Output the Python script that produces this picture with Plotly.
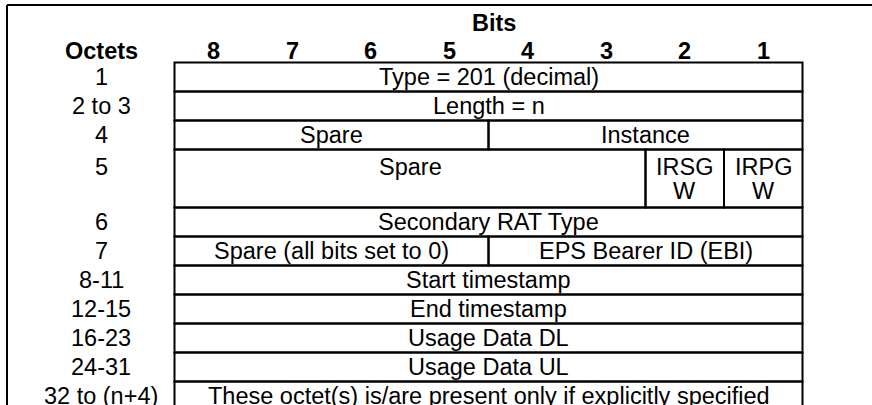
import plotly.graph_objects as go

# ---------------- data ----------------
bits = [8, 7, 6, 5, 4, 3, 2, 1]
octets = ["1", "2 to 3", "4", "5", "6", "7", "8-11", "12-15", "16-23", "24-31", "32 to (n+4)"]
row_units = [1, 1, 1, 2, 1, 1, 1, 1, 1, 1, 1]          # lines of text per octet row
# fields: (octet row index, highest bit, lowest bit, label lines)
field_row = [0, 1, 2, 2, 3, 3, 3, 4, 5, 5, 6, 7, 8, 9, 10]
field_hi = [8, 8, 8, 4, 8, 2, 1, 8, 8, 4, 8, 8, 8, 8, 8]
field_lo = [1, 1, 5, 1, 3, 2, 1, 1, 5, 1, 1, 1, 1, 1, 1]
field_label = [
    ["Type = 201 (decimal)"], ["Length = n"], ["Spare"], ["Instance"], ["Spare"],
    ["IRSG", "W"], ["IRPG", "W"], ["Secondary RAT Type"],
    ["Spare (all bits set to 0)"], ["EPS Bearer ID (EBI)"],
    ["Start timestamp"], ["End timestamp"], ["Usage Data DL"], ["Usage Data UL"],
    ["These octet(s) is/are present only if explicitly specified"],
]
header_title = "Bits"
octet_title = "Octets"

# ---------------- geometry (pixel calibration of the axes) ----------------
W, H = 872, 405
col_px = 78.5          # width of one bit column
row_px = 29.0          # height of one text line row
x0_px = 174.5          # left edge of bit area
y0_px = 62.5           # top of first octet row

x_range = [-x0_px / col_px, (W - x0_px) / col_px]
y_range = [(H - y0_px) / row_px, -y0_px / row_px]

def px_x(p):
    return (p - x0_px) / col_px

def px_y(p):
    return (p - y0_px) / row_px

FONT = "Liberation Sans, Arial, Helvetica, sans-serif"
FS = 23.5
LW = 2
BLACK = "#000000"
LINE_POS_2 = [0.6, 1.43]   # vertical positions of text lines inside a two-line row

fig = go.Figure()
shapes = []
ann = []

row_top = []
acc = 0
for u in row_units:
    row_top.append(acc)
    acc += u

def line_y(r, k):
    if row_units[r] == 1:
        return row_top[r] + 0.5
    return row_top[r] + LINE_POS_2[k]

# outer frame (top and left edges)
frame_x = px_x(7)
frame_y = px_y(5)
shapes.append(dict(type="line", xref="x", yref="y", x0=frame_x, x1=x_range[1] + 1,
                   y0=frame_y, y1=frame_y, line=dict(color=BLACK, width=LW)))
shapes.append(dict(type="line", xref="x", yref="y", x0=frame_x, x1=frame_x,
                   y0=frame_y, y1=y_range[0] + 1, line=dict(color=BLACK, width=LW)))

# header texts
ann.append(dict(x=px_x(494), y=px_y(23), text=f"<b>{header_title}</b>"))
ann.append(dict(x=px_x(101), y=px_y(50.5), text=f"<b>{octet_title}</b>"))
for b in bits:
    ann.append(dict(x=(8 - b) + 0.5, y=px_y(50.5), text=f"<b>{b}</b>"))

# octet labels
for i, lab in enumerate(octets):
    ann.append(dict(x=px_x(101), y=line_y(i, 0), text=lab))

# fields
for r, hi, lo, lines in zip(field_row, field_hi, field_lo, field_label):
    xa = 8 - hi
    xb = 9 - lo
    ya = row_top[r]
    yb = ya + row_units[r]
    shapes.append(dict(type="rect", xref="x", yref="y", x0=xa, x1=xb, y0=ya, y1=yb,
                       line=dict(color=BLACK, width=LW), fillcolor="rgba(0,0,0,0)"))
    for k, txt in enumerate(lines):
        ann.append(dict(x=(xa + xb) / 2, y=line_y(r, k), text=txt))

for a in ann:
    a.update(xref="x", yref="y", showarrow=False, xanchor="center", yanchor="middle",
             font=dict(family=FONT, size=FS, color=BLACK))

fig.update_layout(
    width=W, height=H,
    margin=dict(l=0, r=0, t=0, b=0),
    paper_bgcolor="white", plot_bgcolor="white",
    shapes=shapes, annotations=ann,
    xaxis=dict(range=x_range, visible=False, fixedrange=True),
    yaxis=dict(range=y_range, visible=False, fixedrange=True),
    showlegend=False,
)

fig.write_html("out.html", config={"displayModeBar": False},
               post_script="document.body.style.margin='0';document.body.style.overflow='hidden';")
